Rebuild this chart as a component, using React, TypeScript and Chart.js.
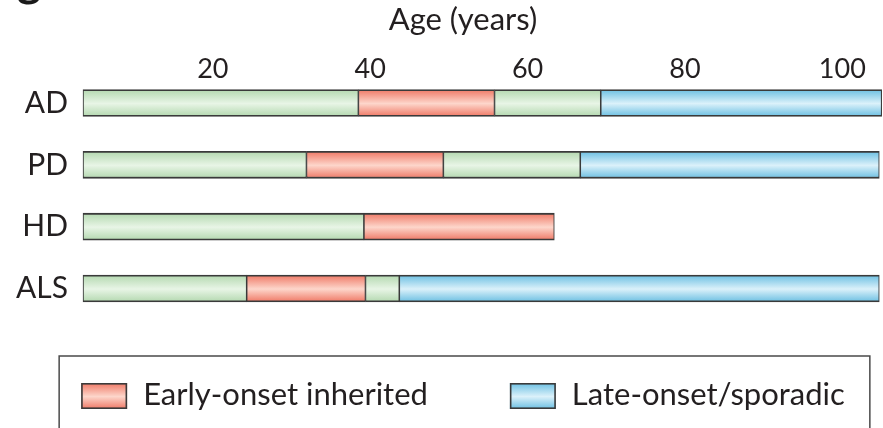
import React, { useEffect, useRef } from 'react';
import { Chart, registerables } from 'chart.js';

Chart.register(...registerables);

// ---- data ----
const categories = ['AD', 'PD', 'HD', 'ALS'];
const barStart = [3.5, 3.5, 3.5, 3.5];
const earlyOnsetFrom = [38.5, 31.9, 39.2, 24.3];
const earlyOnsetTo = [55.8, 49.3, 63.4, 39.4];
const lateOnsetFrom = [69.3, 66.7, null, 43.7];
const lateOnsetTo = [105, 104.7, null, 104.7];
const xTickValues = [20, 40, 60, 80, 100];
const X_MIN = 3.5;
const X_MAX = 105;
const legendLabels = ['Early-onset inherited', 'Late-onset/sporadic'];
const axisTitle = 'Age (years)';
const panelLabel = 'g';

// ---- styles ----
const FONT = 'Lato, "Open Sans", sans-serif';
const TEXT = '#231f20';
const BORDER = '#3a3a3a';
const GREEN = ['#b3d8af', '#e8f5e6'];
const RED = ['#ef7865', '#fdd6cb'];
const BLUE = ['#6bbfe2', '#dbf1fa'];
const BAR_H = 27;
const Y_FONT = 30;
const TICK_FONT = 27;
const TITLE_FONT = 31;
const LEGEND_FONT = 31;

function makeGrad(ctx2d: CanvasRenderingContext2D, top: number, h: number, colors: string[]) {
  const g = ctx2d.createLinearGradient(0, top, 0, top + h);
  g.addColorStop(0, colors[0]);
  g.addColorStop(0.52, colors[1]);
  g.addColorStop(1, colors[0]);
  return g;
}

function barFill(colors: string[]) {
  return (c: any) => {
    const chart = c.chart;
    const y = chart.scales && chart.scales.y;
    if (c.type !== 'data' || !y || !chart.chartArea) return colors[0];
    const yc = y.getPixelForValue(c.dataIndex);
    return makeGrad(chart.ctx, yc - BAR_H / 2, BAR_H, colors);
  };
}

const seg = (from: (number | null)[], to: (number | null)[]) =>
  categories.map((_, i) => (from[i] == null || to[i] == null ? null : [from[i], to[i]]));

const legendItems = [
  { text: legendLabels[0], colors: RED },
  { text: legendLabels[1], colors: BLUE },
];

const boxedLegend = {
  id: 'boxedLegend',
  afterDraw(chart: any) {
    const ctx: CanvasRenderingContext2D = chart.ctx;
    const SW = 46, SH = 26, GAP = 16, SEP = 82;
    const centerX = 463;
    const boxTop = 356;
    const swTop = 383;
    const baseline = 405;
    ctx.save();
    ctx.font = `${LEGEND_FONT}px ${FONT}`;
    const widths = legendItems.map((it) => ctx.measureText(it.text).width);
    const total = widths.reduce((a, w) => a + SW + GAP + w, 0) + SEP * (legendItems.length - 1);
    let x = centerX - total / 2;
    const boxLeft = x - 22;
    legendItems.forEach((it, i) => {
      ctx.fillStyle = makeGrad(ctx, swTop, SH, it.colors);
      ctx.fillRect(x, swTop, SW, SH);
      ctx.strokeStyle = BORDER;
      ctx.lineWidth = 1.6;
      ctx.strokeRect(x + 0.8, swTop + 0.8, SW - 1.6, SH - 1.6);
      ctx.fillStyle = TEXT;
      ctx.textBaseline = 'alphabetic';
      ctx.textAlign = 'left';
      ctx.fillText(it.text, x + SW + GAP, baseline);
      x += SW + GAP + widths[i] + (i < legendItems.length - 1 ? SEP : 0);
    });
    const boxRight = x + 25;
    ctx.strokeStyle = '#4a4a4a';
    ctx.lineWidth = 1.5;
    ctx.strokeRect(boxLeft, boxTop, boxRight - boxLeft, chart.height - boxTop + 20);

    ctx.fillStyle = '#1a1a1a';
    ctx.font = `bold 46px ${FONT}`;
    ctx.fillText(panelLabel, 17, -4.5);
    ctx.restore();
  },
};

export default function App() {
  const ref = useRef<HTMLCanvasElement | null>(null);
  useEffect(() => {
    if (!ref.current) return;
    // right-align category labels 15px left of the plot area (mirror avoids label clipping)
    const m = document.createElement('canvas').getContext('2d')!;
    m.font = `${Y_FONT}px ${FONT}`;
    const widest = Math.max(...categories.map((c) => m.measureText(c).width));
    const yPad = -(15 + widest);

    const common = {
      borderColor: BORDER,
      borderWidth: { top: 1.8, bottom: 1.8, left: 1.1, right: 1.1 },
      borderSkipped: false,
      grouped: false,
      barThickness: BAR_H,
      clip: false,
      xAxisID: 'x',
      yAxisID: 'y',
    };
    const chart = new Chart(ref.current, {
      type: 'bar',
      data: {
        labels: categories,
        datasets: [
          { ...common, label: 'Before onset', data: seg(barStart, earlyOnsetFrom), backgroundColor: barFill(GREEN) },
          { ...common, label: legendLabels[0], data: seg(earlyOnsetFrom, earlyOnsetTo), backgroundColor: barFill(RED) },
          { ...common, label: 'Between onsets', data: seg(earlyOnsetTo, lateOnsetFrom), backgroundColor: barFill(GREEN) },
          { ...common, label: legendLabels[1], data: seg(lateOnsetFrom, lateOnsetTo), backgroundColor: barFill(BLUE) },
        ] as any,
      },
      options: {
        indexAxis: 'y',
        responsive: true,
        maintainAspectRatio: false,
        animation: false,
        layout: { padding: { left: 43, right: 0, top: 0, bottom: 139.5 } },
        scales: {
          x: {
            type: 'linear',
            position: 'top',
            min: X_MIN,
            max: X_MAX,
            afterBuildTicks: (s: any) => {
              s.ticks = xTickValues.map((v) => ({ value: v }));
            },
            afterFit: (s: any) => {
              s.height = 64.8;
            },
            grid: { display: false, drawTicks: false },
            border: { display: false },
            ticks: {
              padding: 17.2,
              autoSkip: false,
              maxRotation: 0,
              color: TEXT,
              font: { family: FONT, size: TICK_FONT },
            },
          },
          y: {
            type: 'category',
            offset: false,
            afterFit: (s: any) => {
              s.width = 40;
            },
            grid: { display: false, drawTicks: false },
            border: { display: false },
            ticks: {
              mirror: true,
              crossAlign: 'far',
              padding: yPad,
              autoSkip: false,
              color: TEXT,
              font: { family: FONT, size: Y_FONT },
            },
          },
        } as any,
        plugins: {
          title: {
            display: true,
            text: axisTitle,
            color: TEXT,
            font: { family: FONT, size: TITLE_FONT, weight: 'normal' },
            padding: { top: 1, bottom: 0 },
          },
          legend: { display: false },
          tooltip: { enabled: false },
        },
      } as any,
      plugins: [boxedLegend],
    });
    return () => chart.destroy();
  }, []);
  return (
    <div style={{ position: 'absolute', left: 0, top: 0, width: 883, height: 428, background: '#fff' }}>
      <canvas ref={ref} />
    </div>
  );
}
